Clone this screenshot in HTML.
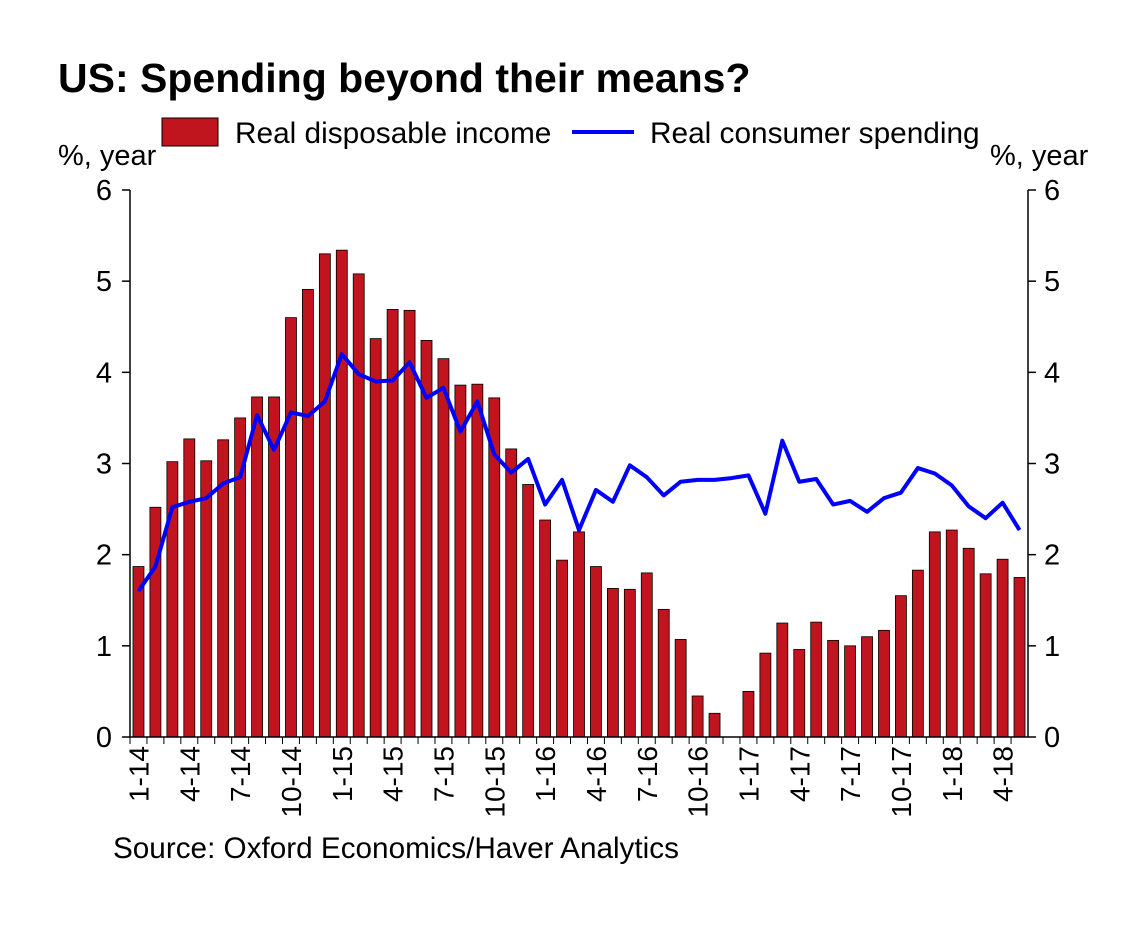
<!DOCTYPE html>
<html><head><meta charset="utf-8"><style>
body{margin:0;background:#fff;}
svg text{font-family:"Liberation Sans",Arial,sans-serif;fill:#000;}
</style></head><body>
<svg id="chart" width="1148" height="924" xmlns="http://www.w3.org/2000/svg">
<text x="58" y="92" font-size="41" font-weight="bold">US: Spending beyond their means?</text>
<rect x="162" y="118" width="56" height="28" fill="#c0151f" stroke="#000" stroke-width="1"/>
<text x="235" y="143" font-size="29.8">Real disposable income</text>
<line x1="572" y1="132" x2="634" y2="132" stroke="#0000ff" stroke-width="4"/>
<text x="650" y="143" font-size="29.8">Real consumer spending</text>
<text x="58" y="165" font-size="29">%, year</text>
<text x="990" y="165" font-size="29">%, year</text>
<text x="113" y="858" font-size="29.7">Source: Oxford Economics/Haver Analytics</text>
<g id="plot"></g>
</svg>
<script>
const months = ["1-14","2-14","3-14","4-14","5-14","6-14","7-14","8-14","9-14","10-14","11-14","12-14","1-15","2-15","3-15","4-15","5-15","6-15","7-15","8-15","9-15","10-15","11-15","12-15","1-16","2-16","3-16","4-16","5-16","6-16","7-16","8-16","9-16","10-16","11-16","12-16","1-17","2-17","3-17","4-17","5-17","6-17","7-17","8-17","9-17","10-17","11-17","12-17","1-18","2-18","3-18","4-18","5-18"];
const income = [1.87,2.52,3.02,3.27,3.03,3.26,3.50,3.73,3.73,4.60,4.91,5.30,5.34,5.08,4.37,4.69,4.68,4.35,4.15,3.86,3.87,3.72,3.16,2.77,2.38,1.94,2.25,1.87,1.63,1.62,1.80,1.40,1.07,0.45,0.26,0,0.50,0.92,1.25,0.96,1.26,1.06,1.00,1.10,1.17,1.55,1.83,2.25,2.27,2.07,1.79,1.95,1.75];
const spending = [1.60,1.87,2.52,2.58,2.62,2.78,2.85,3.53,3.15,3.56,3.52,3.68,4.20,3.98,3.90,3.91,4.11,3.72,3.83,3.35,3.68,3.10,2.90,3.05,2.55,2.82,2.27,2.71,2.58,2.98,2.85,2.65,2.80,2.82,2.82,2.84,2.87,2.45,3.25,2.80,2.83,2.55,2.59,2.47,2.62,2.68,2.95,2.89,2.76,2.53,2.40,2.57,2.27];
const yTicks = [0,1,2,3,4,5,6];

const NS="http://www.w3.org/2000/svg";
const L=130,R=1028,T=190,B=737,YMAX=6;
const slot=(R-L)/months.length;
const x=i=>L+slot*(i+0.5);
const y=v=>B-(v/YMAX)*(B-T);
const g=document.getElementById('plot');
function mk(tag,attrs){const e=document.createElementNS(NS,tag);for(const k in attrs)e.setAttribute(k,attrs[k]);g.appendChild(e);return e;}

income.forEach((v,i)=>{
  if(v<=0)return;
  const r=mk('rect',{x:x(i)-5.5,y:y(v),width:11,height:B-y(v),fill:'#c0151f',stroke:'#000','stroke-width':0.8});
  
  
});
const a1=mk('line',{x1:L,y1:T,x2:L,y2:B,stroke:'#000','stroke-width':1.5});


const a2=mk('line',{x1:R,y1:T,x2:R,y2:B,stroke:'#000','stroke-width':1.5});


const a3=mk('line',{x1:L,y1:B,x2:R,y2:B,stroke:'#000','stroke-width':1.5});


yTicks.forEach(t=>{
  mk('line',{x1:L-8,y1:y(t),x2:L,y2:y(t),stroke:'#000','stroke-width':1.5});
  mk('line',{x1:R,y1:y(t),x2:R+8,y2:y(t),stroke:'#000','stroke-width':1.5});
  const lt=mk('text',{x:112,y:y(t)+10,'font-size':29,'text-anchor':'end'});lt.textContent=t;
  
  
  const rt=mk('text',{x:1044,y:y(t)+10,'font-size':29});rt.textContent=t;
  
  
});
months.forEach((m,i)=>{
  mk('line',{x1:L+slot*i,y1:B,x2:L+slot*i,y2:B+7,stroke:'#000','stroke-width':1});
  if(i%3===0){
    const t=mk('text',{transform:`translate(${x(i)+10},746) rotate(-90)`,'font-size':28,'text-anchor':'end'});
    t.textContent=m;
    
    
  }
});
const pl=mk('polyline',{points:spending.map((v,i)=>x(i)+','+y(v)).join(' '),fill:'none',stroke:'#0000ff','stroke-width':4,'stroke-linejoin':'round'});


</script>
</body></html>
